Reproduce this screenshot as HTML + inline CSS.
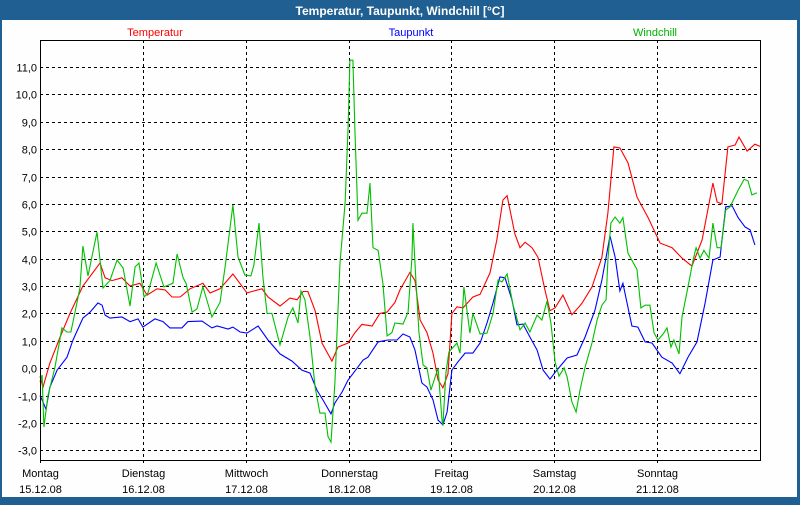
<!DOCTYPE html>
<html><head><meta charset="utf-8"><style>
html,body{margin:0;padding:0;}
body{width:800px;height:500px;overflow:hidden;background:#1f5f91;font-family:"Liberation Sans",sans-serif;}
#win{position:absolute;left:0;top:0;width:800px;height:500px;}
</style></head><body>
<div id="win">
<svg id="chart" width="800" height="500" xmlns="http://www.w3.org/2000/svg">
<rect x="0" y="0" width="800" height="500" fill="#1f5f91"/>
<rect x="2" y="20" width="795" height="477" fill="#fdfefd"/>
<text x="400" y="15" text-anchor="middle" fill="#fff" font-weight="bold" font-size="12">Temperatur, Taupunkt, Windchill [°C]</text>
<text x="155" y="36" text-anchor="middle" fill="#ff0000" font-size="11">Temperatur</text>
<text x="411" y="36" text-anchor="middle" fill="#0000ff" font-size="11">Taupunkt</text>
<text x="655" y="36" text-anchor="middle" fill="#00b000" font-size="11">Windchill</text>
<g id="grid"></g><g id="series"></g><g id="axes"></g>
</svg>
</div>
<script>
const yTicks=[11,10,9,8,7,6,5,4,3,2,1,0,-1,-2,-3];
const dayNames=["Montag","Dienstag","Mittwoch","Donnerstag","Freitag","Samstag","Sonntag"];
const dayDates=["15.12.08","16.12.08","17.12.08","18.12.08","19.12.08","20.12.08","21.12.08"];
const tempHours=[0,0.7,2.3,4.7,7,10,14,15.2,16.8,19.1,21,23.3,25,27.3,29.2,30.8,32.7,35,38,39.7,42,45,48.3,51.8,53.2,56,58.3,60,61.4,62.5,64.2,65.8,68.1,69.5,71.9,73.5,75.1,77.5,79.3,81,82.8,84,86.3,87.5,88.7,90.3,91.7,92.9,94,95.2,96.1,97.3,98.7,101,102.7,105,106.6,108,109,110.8,112,113.2,114.8,116.2,117.8,119,120.2,122,124.1,125.8,126.5,128.8,131.1,132.5,133.9,135.3,137.2,139.3,141.9,144.7,147.5,149.8,152.1,154.5,157,158,159.1,160.5,162.2,163.1,165,166.8,168];
const tempValues=[-0.3,-0.69,0.19,1.14,2.0,3.0,3.84,3.3,3.2,3.3,3.0,3.1,2.67,2.9,2.86,2.6,2.6,2.9,3.1,2.75,2.9,3.44,2.75,2.9,2.6,2.27,2.56,2.5,2.8,2.8,2.1,0.92,0.26,0.77,0.92,1.3,1.6,1.54,2.0,2.05,2.4,2.86,3.5,3.2,1.76,1.3,0.55,-0.43,-0.72,-0.2,2.0,2.24,2.2,2.6,2.7,3.48,4.7,6.14,6.3,4.9,4.4,4.6,4.4,4.05,2.86,2.1,2.2,2.67,1.95,2.24,2.38,2.97,4.05,5.67,8.08,8.04,7.5,6.25,5.5,4.57,4.4,4.02,3.73,4.68,6.76,6.07,6.0,8.08,8.15,8.44,7.93,8.18,8.1];
const dewHours=[0,0.5,1.4,2.3,4.0,6.3,7.7,10.0,11.7,13.5,14.5,15.2,16.3,19.1,21.0,22.9,24.0,26.8,28.7,30.3,33.1,34.5,37.8,40.1,41.3,43.9,45.0,46.7,48.3,50.9,53.2,56.0,58.8,61.1,63.0,64.6,66.0,67.9,68.8,70.5,71.9,73.5,75.4,76.5,78.9,81.2,83.3,84.7,86.3,87.5,89.1,90.3,91.7,92.9,94.0,95.0,96.1,97.5,99.2,101.0,102.7,104.3,105.7,107.3,108.5,110.1,111.3,112.7,114.3,116.0,117.4,119.0,120.6,123.0,125.3,127.2,129.5,131.1,133.0,134.2,135.3,136.0,138.1,139.5,141.2,142.8,145.1,147.5,149.3,151.2,153.3,155.2,157.0,158.7,160.0,161.5,162.9,164.5,165.7,166.8];
const dewValues=[-1.0,-1.16,-1.5,-0.69,-0.07,0.4,1.03,1.83,2.05,2.38,2.3,1.94,1.83,1.87,1.7,1.8,1.5,1.8,1.7,1.47,1.47,1.7,1.72,1.47,1.54,1.43,1.5,1.32,1.28,1.54,1.03,0.52,0.26,-0.07,-0.18,-0.8,-1.16,-1.67,-1.27,-0.87,-0.43,-0.1,0.3,0.4,0.96,1.03,1.03,1.25,1.14,0.66,-0.54,-0.69,-1.16,-1.9,-2.07,-1.6,-0.07,0.23,0.55,0.55,0.92,1.65,2.38,3.33,3.3,2.5,1.58,1.61,1.14,0.66,-0.07,-0.4,-0.07,0.37,0.48,1.14,2.12,3.22,4.83,4.06,2.82,3.1,1.54,1.5,0.96,0.92,0.4,0.19,-0.2,0.4,0.96,2.38,3.95,4.06,5.89,5.93,5.5,5.16,5.05,4.5];
const chillHours=[0,0.5,0.9,1.9,3.5,5.1,6.3,7.2,8.6,9.3,10.0,11.2,13.3,14.7,16.3,18.0,19.4,21.0,22.2,23.1,24.3,25.2,27.1,28.9,31.0,32.0,33.4,34.1,35.5,36.6,38.0,40.1,42.0,43.2,45.0,46.2,47.8,49.2,49.9,51.1,52.0,53.0,54.1,56.0,57.9,59.0,60.2,60.9,61.8,63.0,64.2,65.3,66.5,67.2,67.9,68.8,70.0,71.2,71.9,72.3,73.0,73.5,74.2,75.1,76.3,77.0,77.7,78.9,80.0,81.0,82.1,82.8,84.7,85.9,86.8,87.0,87.7,88.4,89.4,90.3,91.2,92.9,93.8,94.0,94.7,95.4,97.3,98.0,98.9,100.3,101.0,102.7,104.3,105.7,106.9,107.8,109.0,110.4,112.0,113.2,114.3,116.0,117.1,118.3,119.2,120.2,121.1,122.3,123.0,124.1,125.1,126.0,127.2,128.8,130.0,131.1,132.1,132.5,133.2,134.2,135.3,136.0,137.2,139.3,140.2,141.2,142.3,143.3,144.2,145.4,146.3,147.2,147.9,149.1,149.8,151.2,152.4,153.1,154.0,154.9,156.1,157.0,158.0,158.9,160.0,161.0,162.9,164.3,165.2,166.1,167.3];
const chillValues=[-0.5,-0.25,-2.15,-0.98,0.04,1.47,1.32,1.32,2.38,2.93,4.46,3.37,4.97,2.93,3.2,3.95,3.66,2.27,3.7,3.84,2.6,2.75,3.84,2.97,3.1,4.17,3.3,3.1,2.05,2.16,2.97,1.87,2.4,3.7,5.96,4.06,3.4,3.37,3.77,5.3,3.33,2.0,2.0,0.85,1.87,2.2,1.65,2.82,2.5,1.14,-0.69,-1.64,-1.64,-2.5,-2.7,-0.54,3.84,6.03,8.8,11.25,11.25,8.6,5.4,5.66,5.66,6.76,4.4,4.3,3.1,1.18,1.3,1.65,1.61,2.05,4.06,5.3,3.2,1.32,0.12,0.01,-0.8,0.01,-1.9,-2.1,-0.18,0.59,0.92,0.55,2.97,1.28,2.0,1.25,1.28,2.0,3.22,3.15,3.44,2.3,1.4,1.65,1.32,1.94,1.76,2.45,1.65,0.23,-0.29,0.01,-0.32,-1.23,-1.6,-0.8,0.04,0.92,1.76,2.3,2.5,3.95,5.3,5.52,5.3,5.5,4.2,3.6,2.2,2.3,2.3,1.28,1.03,1.25,1.47,0.77,1.03,0.52,1.87,2.97,3.95,4.4,4.02,4.3,4.02,5.3,4.4,4.4,5.78,5.89,6.5,6.9,6.84,6.33,6.4];

const L=40,R=760,T=40,B=460,HOURS=168;
const xS=h=>L+h/HOURS*(R-L);
const yS=v=>67+(11-v)*27.38;
const NS="http://www.w3.org/2000/svg";
function mk(tag,attrs,parent){const e=document.createElementNS(NS,tag);for(const k in attrs)e.setAttribute(k,attrs[k]);parent.appendChild(e);return e;}
const grid=document.getElementById('grid'),axes=document.getElementById('axes'),ser=document.getElementById('series');
yTicks.forEach(v=>{
  const y=Math.round(yS(v))+0.5;
  const g=mk('line',{x1:L,x2:R,y1:y,y2:y,stroke:'#000','stroke-width':1,'stroke-dasharray':'3,3'},grid);
  
  
  const t=mk('text',{x:37,y:y+4,'text-anchor':'end','font-size':11,fill:'#000'},axes);
  t.textContent=v.toFixed(1).replace('.',',');
  
  
});
dayNames.forEach((d,i)=>{
  const x=Math.round(xS(i*24))+0.5;
  const g=mk('line',{x1:x,x2:x,y1:T,y2:B+4,stroke:'#000','stroke-width':1,'stroke-dasharray':'3,3'},grid);
  
  
  const t1=mk('text',{x:x,y:477,'text-anchor':'middle','font-size':11,fill:'#000'},axes);
  t1.textContent=d;
  
  
  const t2=mk('text',{x:x,y:493,'text-anchor':'middle','font-size':11,fill:'#000'},axes);
  t2.textContent=dayDates[i];
  
  
});
const frame=mk('rect',{x:L+0.5,y:T+0.5,width:R-L,height:B-T,fill:'none',stroke:'#000','stroke-width':1},axes);


function line(hours,vals,color,name){
  const pts=hours.map((h,i)=>xS(h).toFixed(1)+','+yS(vals[i]).toFixed(1)).join(' ');
  const p=mk('polyline',{points:pts,fill:'none',stroke:color,'stroke-width':1.1},ser);
  
  
}
line(tempHours,tempValues,'#ff0000','temperatur-line');
line(dewHours,dewValues,'#0000ff','taupunkt-line');
line(chillHours,chillValues,'#00c000','windchill-line');
</script>
</body></html>
